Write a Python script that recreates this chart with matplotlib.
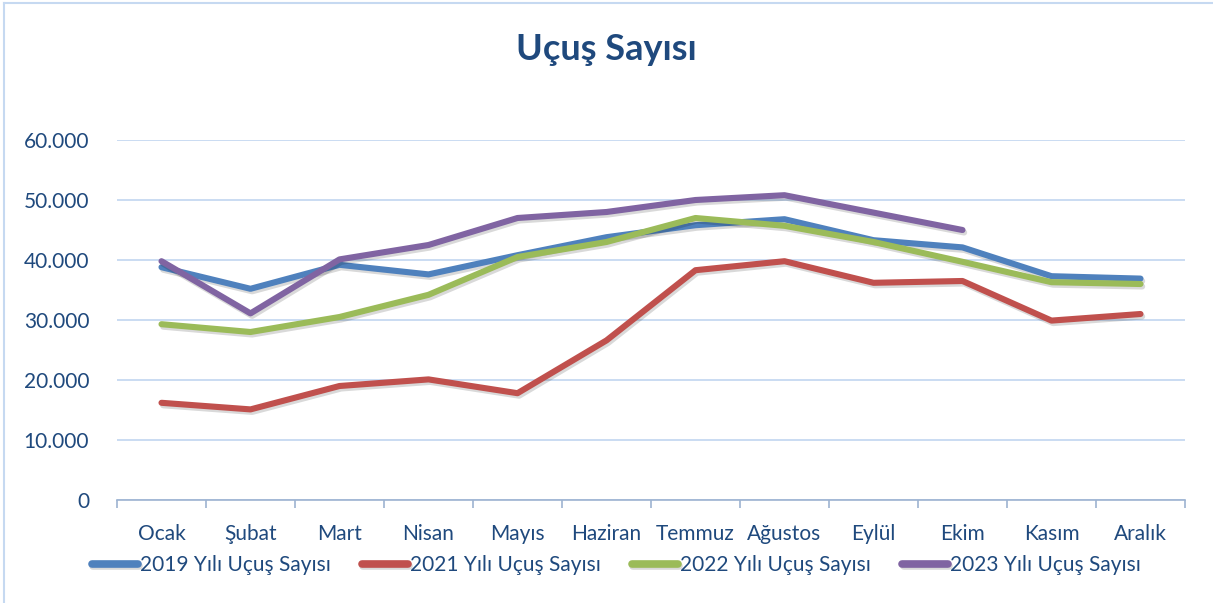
import matplotlib
matplotlib.use("Agg")
import matplotlib.pyplot as plt
import matplotlib.patheffects as pe
from matplotlib.ticker import FuncFormatter, FixedLocator

# -----------------------
# Data
# -----------------------
months = ["Ocak", "Şubat", "Mart", "Nisan", "Mayıs", "Haziran",
          "Temmuz", "Ağustos", "Eylül", "Ekim", "Kasım", "Aralık"]

flights_2019 = [38800, 35200, 39200, 37600, 40800, 43800,
                45800, 46800, 43300, 42100, 37300, 36900]
flights_2021 = [16200, 15100, 19000, 20100, 17800, 26600,
                38300, 39800, 36200, 36500, 29900, 31000]
flights_2022 = [29300, 28000, 30500, 34200, 40500, 43000,
                47000, 45700, 43000, 39700, 36300, 36000]
flights_2023 = [39800, 31100, 40100, 42500, 47000, 48000,
                50000, 50800, 47900, 45000]

series = [
    ("2019 Yılı Uçuş Sayısı", flights_2019, "#4F81BD"),
    ("2021 Yılı Uçuş Sayısı", flights_2021, "#C0504D"),
    ("2022 Yılı Uçuş Sayısı", flights_2022, "#9BBB59"),
    ("2023 Yılı Uçuş Sayısı", flights_2023, "#8064A2"),
]

text_color = "#1F497D"
plt.rcParams["font.family"] = ["Lato", "DejaVu Sans"]

# -----------------------
# Figure
# -----------------------
fig = plt.figure(figsize=(12.13, 6.03), dpi=100)
ax = fig.add_axes([117 / 1213, 1 - 500 / 603, (1185 - 117) / 1213, 360 / 603])

shadow = [pe.SimpleLineShadow(offset=(1.2, -1.8), shadow_color="black", alpha=0.15),
          pe.Normal()]

x_all = list(range(len(months)))
for label, values, color in series:
    ax.plot(x_all[:len(values)], values, color=color, lw=4.4,
            solid_capstyle="round", solid_joinstyle="round",
            label=label, path_effects=shadow, zorder=3)

ax.set_xlim(-0.5, len(months) - 0.5)
ax.set_ylim(0, 60000)
ax.set_yticks(range(0, 60001, 10000))
ax.yaxis.set_major_formatter(FuncFormatter(lambda v, p: f"{int(v):,}".replace(",", ".")))
ax.set_xticks(x_all)
ax.set_xticklabels(months)
ax.xaxis.set_minor_locator(FixedLocator([i - 0.5 for i in range(len(months) + 1)]))

ax.grid(axis="y", color="#C6D9F1", lw=1.3, zorder=0)
for side in ["top", "right", "left"]:
    ax.spines[side].set_visible(False)
ax.spines["bottom"].set_color("#9DB3D1")
ax.spines["bottom"].set_linewidth(1.2)

ax.tick_params(axis="y", length=0, pad=20, labelsize=15, labelcolor=text_color)
ax.tick_params(axis="x", which="major", length=0, pad=17, labelsize=15, labelcolor=text_color)
ax.tick_params(axis="x", which="minor", length=6, color="#9DB3D1", width=1.2)

fig.text(0.5, 1 - 50 / 603, "Uçuş Sayısı", ha="center", va="center",
         fontsize=26, fontweight="bold", color=text_color)

leg = fig.legend(loc="center", bbox_to_anchor=(0.508, 1 - 565 / 603), ncol=4,
                 frameon=False, fontsize=15, handlelength=2.2,
                 columnspacing=1.5, handletextpad=0.1, labelcolor=text_color)
for h in leg.get_lines():
    h.set_linewidth(5.5)

# light chart border
fig.add_artist(plt.Line2D([0.003, 0.003], [0, 0.995], color="#C6D9F1", lw=1.5))
fig.add_artist(plt.Line2D([0.003, 1], [0.995, 0.995], color="#C6D9F1", lw=1.5))

fig.savefig("out.png", dpi=100)
